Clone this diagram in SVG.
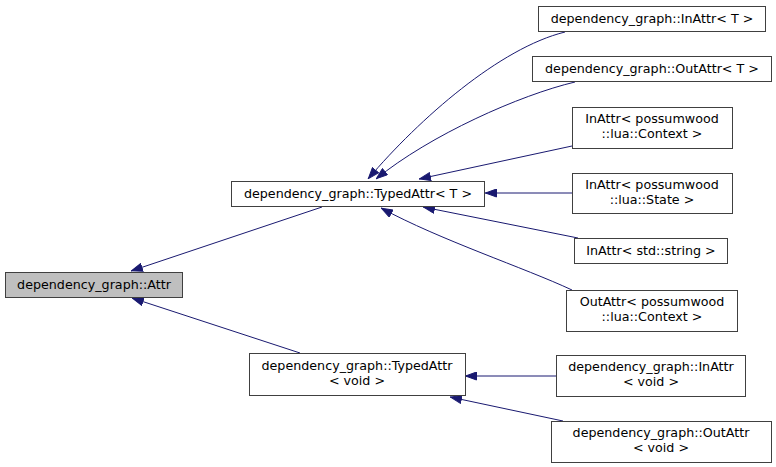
<svg xmlns="http://www.w3.org/2000/svg" width="776" height="467" viewBox="0 0 776 467">
<style>
.n rect{fill:#ffffff;stroke:#404040;stroke-width:1}
.n.g rect{fill:#bfbfbf}
text{font-family:"DejaVu Sans",sans-serif;font-size:12.7px;fill:#000;text-anchor:middle}
.e path{fill:none;stroke:#191970;stroke-width:1}
</style>
<defs>
<marker id="ah" viewBox="0 0 12 9" refX="12" refY="4.5" markerWidth="12" markerHeight="9" markerUnits="userSpaceOnUse" orient="auto">
<path d="M0.5,0.5 L11.5,4.5 L0.5,8.5 z" fill="#191970" stroke="#191970"/>
</marker>
</defs>
<rect width="776" height="467" fill="#ffffff"/>
<g id="connectors" class="e">
<path d="M322,207 L131,271" marker-end="url(#ah)"/>
<path d="M300,353 L132,298" marker-end="url(#ah)"/>
<path d="M565,32 C500,48 420,118 368,179" marker-end="url(#ah)"/>
<path d="M575,82 C520,95 430,135 376,179" marker-end="url(#ah)"/>
<path d="M572,146 L419,179" marker-end="url(#ah)"/>
<path d="M572,193 L485,193" marker-end="url(#ah)"/>
<path d="M578,238 L423,207" marker-end="url(#ah)"/>
<path d="M572,290 C525,268 440,240 381,208" marker-end="url(#ah)"/>
<path d="M556,376 L465,376" marker-end="url(#ah)"/>
<path d="M563,421 L450,397" marker-end="url(#ah)"/>
</g>
<g id="attr" class="n g"><rect x="5.5" y="272.5" width="177" height="25"/><text x="94" y="289">dependency_graph::Attr</text></g>
<g id="typedattr_t" class="n"><rect x="231.5" y="181.5" width="253" height="25"/><text x="358" y="198">dependency_graph::TypedAttr&lt; T &gt;</text></g>
<g id="inattr_t" class="n"><rect x="538.5" y="6.5" width="227" height="25"/><text x="652" y="23">dependency_graph::InAttr&lt; T &gt;</text></g>
<g id="outattr_t" class="n"><rect x="532.5" y="56.5" width="239" height="25"/><text x="652" y="73">dependency_graph::OutAttr&lt; T &gt;</text></g>
<g id="inattr_context" class="n"><rect x="572.5" y="107.5" width="160" height="41"/><text x="652" y="123">InAttr&lt; possumwood</text><text x="652" y="138">::lua::Context &gt;</text></g>
<g id="inattr_state" class="n"><rect x="572.5" y="173.5" width="160" height="40"/><text x="652" y="189">InAttr&lt; possumwood</text><text x="652" y="204">::lua::State &gt;</text></g>
<g id="inattr_string" class="n"><rect x="574.5" y="238.5" width="153" height="25"/><text x="651" y="255">InAttr&lt; std::string &gt;</text></g>
<g id="outattr_context" class="n"><rect x="566.5" y="290.5" width="171" height="41"/><text x="652" y="306">OutAttr&lt; possumwood</text><text x="652" y="321">::lua::Context &gt;</text></g>
<g id="typedattr_void" class="n"><rect x="249.5" y="353.5" width="216" height="42"/><text x="357" y="370">dependency_graph::TypedAttr</text><text x="357" y="385">&lt; void &gt;</text></g>
<g id="inattr_void" class="n"><rect x="556.5" y="355.5" width="189" height="41"/><text x="651" y="371">dependency_graph::InAttr</text><text x="651" y="386">&lt; void &gt;</text></g>
<g id="outattr_void" class="n"><rect x="551.5" y="421.5" width="220" height="41"/><text x="661" y="437">dependency_graph::OutAttr</text><text x="661" y="452">&lt; void &gt;</text></g>
</svg>
